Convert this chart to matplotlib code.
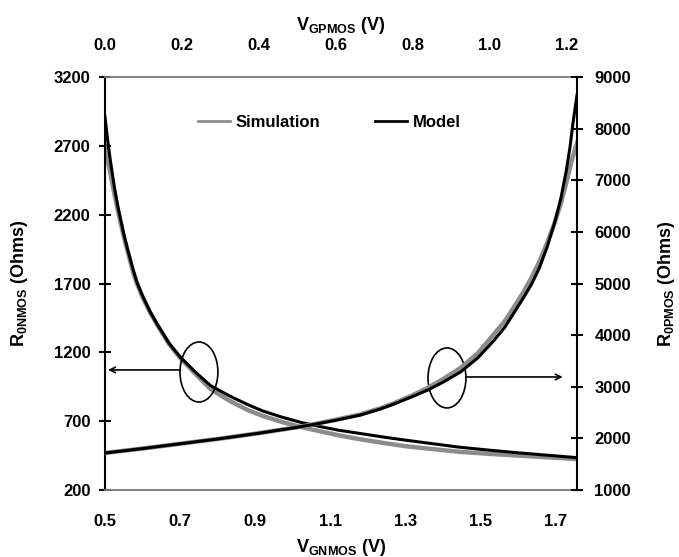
import matplotlib
matplotlib.use("Agg")
import matplotlib.pyplot as plt
from matplotlib.patches import Ellipse

plt.rcParams['font.family'] = ['Liberation Sans', 'DejaVu Sans']
plt.rcParams['font.weight'] = 'bold'
plt.rcParams['axes.labelweight'] = 'bold'
plt.rcParams['mathtext.fontset'] = 'custom'
plt.rcParams['mathtext.rm'] = 'Liberation Sans:bold'
plt.rcParams['mathtext.bf'] = 'Liberation Sans:bold'
plt.rcParams['mathtext.it'] = 'Liberation Sans:bold'

# NMOS: R0 vs VGNMOS (bottom / left axes)
vg_nmos = [0.50, 0.505, 0.51, 0.515, 0.525, 0.535, 0.55, 0.56, 0.575, 0.585,
           0.60, 0.62, 0.64, 0.67, 0.70, 0.74, 0.78, 0.83, 0.88, 0.92,
           0.97, 1.02, 1.07, 1.12, 1.18, 1.24, 1.30, 1.37, 1.44, 1.52,
           1.60, 1.68, 1.756]
r_nmos_model = [2910, 2790, 2680, 2580, 2400, 2250, 2060, 1950, 1800, 1710,
                1610, 1495, 1400, 1268, 1166, 1058, 960, 885, 820, 774,
                730, 692, 662, 635, 610, 585, 562, 537, 512, 490,
                470, 452, 435]
r_nmos_sim = [2700, 2630, 2560, 2490, 2350, 2220, 2040, 1935, 1780, 1700,
              1600, 1490, 1395, 1262, 1160, 1045, 935, 850, 780, 738,
              695, 658, 628, 598, 568, 542, 518, 498, 478, 463,
              450, 437, 425]

# PMOS: R0 vs VGPMOS (top / right axes)
vg_pmos = [0.0, 0.1, 0.2, 0.3, 0.4, 0.5, 0.55, 0.6, 0.665, 0.717,
           0.75, 0.8, 0.84, 0.88, 0.925, 0.97, 1.01, 1.04, 1.063, 1.09,
           1.11, 1.13, 1.15, 1.17, 1.186, 1.2, 1.21, 1.217, 1.228]
r_pmos_model = [1717, 1805, 1900, 1995, 2100, 2215, 2280, 2350, 2453, 2570,
                2660, 2810, 2937, 3090, 3286, 3560, 3880, 4150, 4420, 4740,
                4990, 5300, 5700, 6180, 6650, 7180, 7650, 8080, 8650]
r_pmos_sim = [1717, 1805, 1900, 1995, 2100, 2215, 2285, 2360, 2465, 2585,
              2675, 2835, 2980, 3150, 3364, 3650, 4002, 4270, 4530, 4850,
              5120, 5420, 5780, 6180, 6550, 6950, 7250, 7450, 7720]

left_ticks = [200, 700, 1200, 1700, 2200, 2700, 3200]
right_ticks = [1000, 2000, 3000, 4000, 5000, 6000, 7000, 8000, 9000]
bottom_ticks = [0.5, 0.7, 0.9, 1.1, 1.3, 1.5, 1.7]
top_ticks = [0.0, 0.2, 0.4, 0.6, 0.8, 1.0, 1.2]

sim_color = '#8c8c8c'
fs = 12

fig = plt.figure(figsize=(6.79, 5.57), dpi=100)
rect = [105 / 679, 67 / 557, 472 / 679, 413 / 557]
ax = fig.add_axes(rect)
ax2 = fig.add_axes(rect)
ax2.patch.set_visible(False)

ax.plot(vg_nmos, r_nmos_sim, color=sim_color, lw=3.2, zorder=2)
ax.plot(vg_nmos, r_nmos_model, color='black', lw=2.2, zorder=3)
ax2.plot(vg_pmos, r_pmos_sim, color=sim_color, lw=3.2, zorder=2)
ax2.plot(vg_pmos, r_pmos_model, color='black', lw=2.2, zorder=3)

ax.set_xlim(0.5, 1.756)
ax.set_ylim(200, 3200)
ax2.set_xlim(0.0, 1.228)
ax2.set_ylim(1000, 9000)

ax.set_xticks(bottom_ticks)
ax.set_xticklabels([f"{t:.1f}" for t in bottom_ticks])
ax.set_yticks(left_ticks)
ax2.set_xticks(top_ticks)
ax2.set_xticklabels([f"{t:.1f}" for t in top_ticks])
ax2.set_yticks(right_ticks)

ax2.xaxis.tick_top()
ax2.xaxis.set_label_position('top')
ax2.yaxis.tick_right()
ax2.yaxis.set_label_position('right')

ax.tick_params(axis='x', length=0, pad=17, labelsize=fs)
ax.tick_params(axis='y', direction='inout', length=9, width=1.5, pad=6, labelsize=fs)
ax2.tick_params(axis='x', length=0, pad=17, labelsize=fs)
ax2.tick_params(axis='y', direction='inout', length=9, width=1.5, pad=8, labelsize=fs)

for s in ['top', 'bottom']:
    ax.spines[s].set_color('#7a7a7a')
    ax.spines[s].set_linewidth(1.3)
ax.spines['left'].set_linewidth(1.5)
ax.spines['right'].set_visible(False)
for s in ['left', 'top', 'bottom']:
    ax2.spines[s].set_visible(False)
ax2.spines['right'].set_linewidth(1.5)

ax.set_xlabel(r'$\mathbf{V_{GNMOS}}$ (V)', fontsize=13, labelpad=6)
ax.set_ylabel(r'$\mathbf{R_{0NMOS}}$ (Ohms)', fontsize=13, labelpad=17)
ax2.set_xlabel(r'$\mathbf{V_{GPMOS}}$ (V)', fontsize=13, labelpad=6)
ax2.set_ylabel(r'$\mathbf{R_{0PMOS}}$ (Ohms)', fontsize=13, labelpad=18,
               rotation=90)

# legend
h1, = ax.plot([], [], color=sim_color, lw=2)
h2, = ax.plot([], [], color='black', lw=2)
ax.legend([h1, h2], ['Simulation', 'Model'], ncol=2, frameon=False,
          loc='center', bbox_to_anchor=(0.475, 0.89), fontsize=fs,
          handlelength=1.9, handletextpad=0.35, columnspacing=3.3)

# ellipses and arrows
ax.add_patch(Ellipse((0.75, 1057), 0.101, 436, fill=False, lw=1.2,
                     edgecolor='black', zorder=4))
ax.annotate('', xy=(0.508, 1072), xytext=(0.70, 1072),
            arrowprops=dict(arrowstyle='->', lw=1.2, color='black',
                            shrinkA=0, shrinkB=0))
ax.add_patch(Ellipse((1.41, 1014), 0.101, 436, fill=False, lw=1.2,
                     edgecolor='black', zorder=4))
ax.annotate('', xy=(1.718, 1021), xytext=(1.46, 1021),
            arrowprops=dict(arrowstyle='->', lw=1.2, color='black',
                            shrinkA=0, shrinkB=0))

fig.savefig('out.png', dpi=100)
